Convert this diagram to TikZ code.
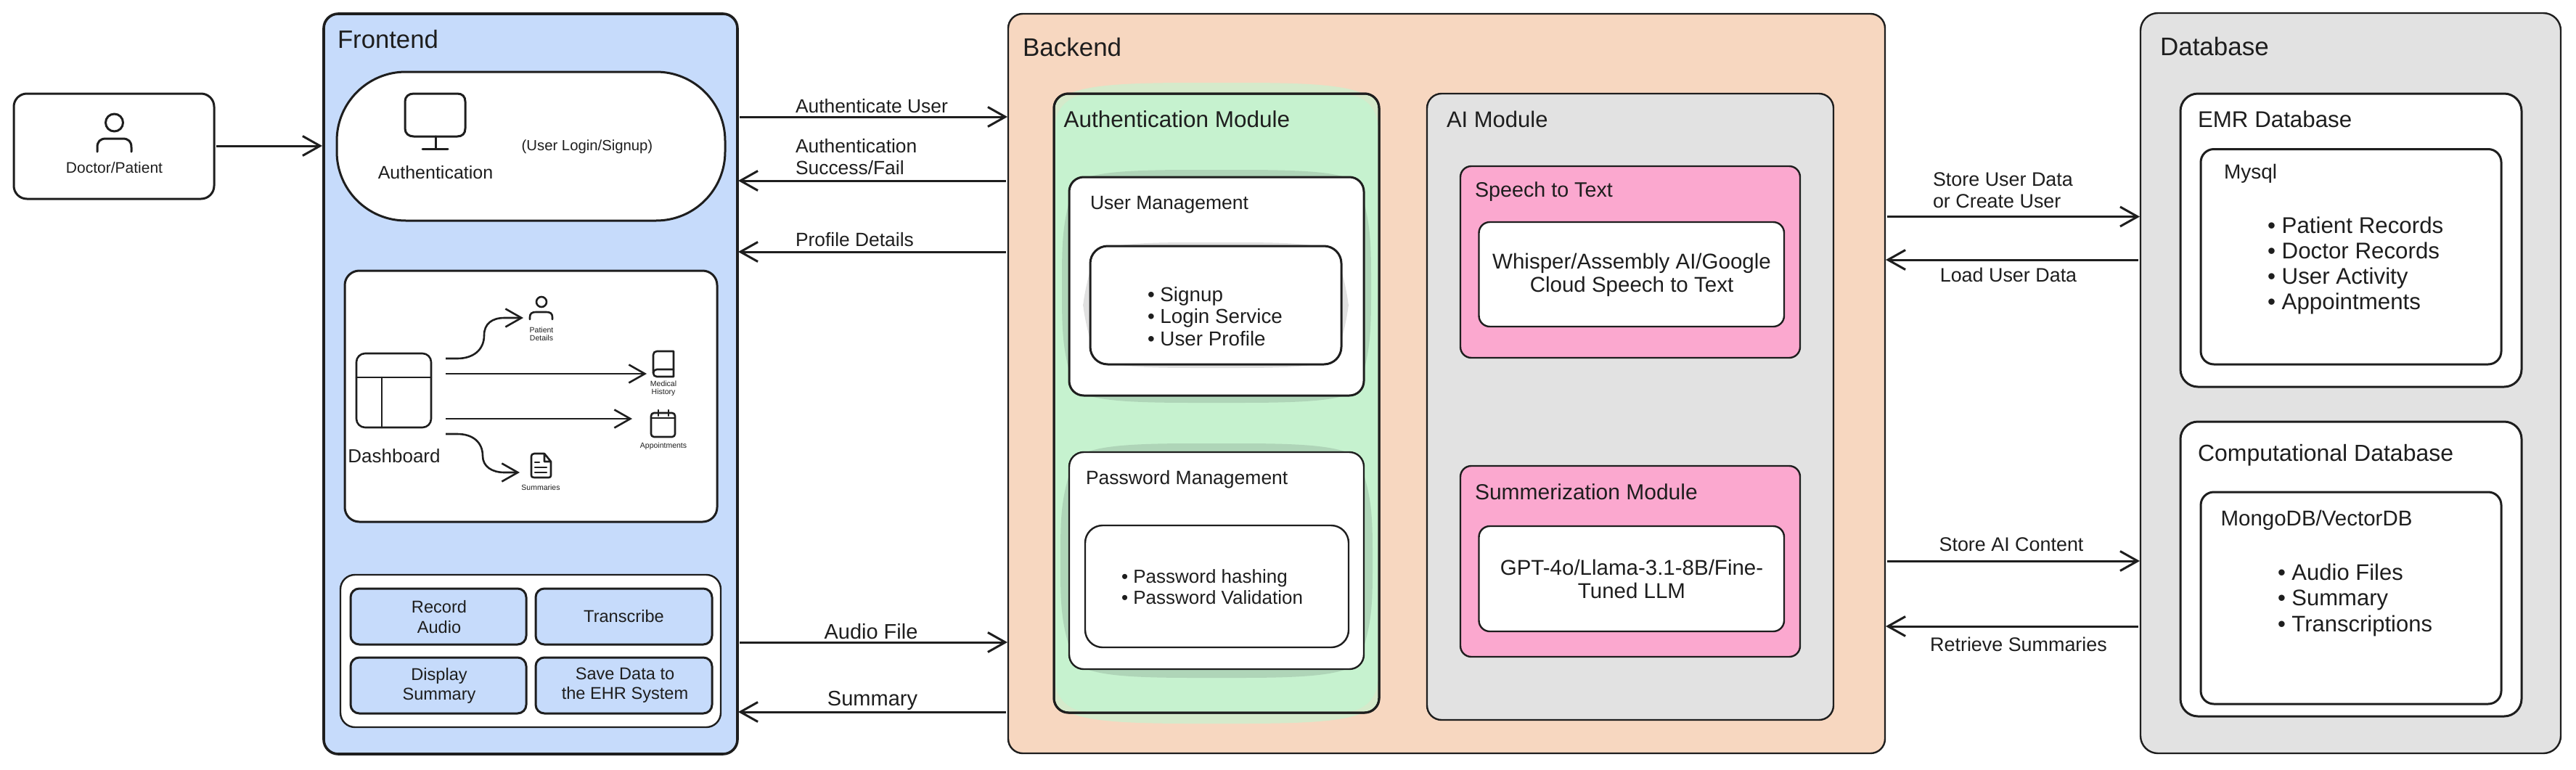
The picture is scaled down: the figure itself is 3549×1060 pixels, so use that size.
\documentclass[tikz,border=0pt]{standalone}
\usepackage{fontspec}
\setmainfont{Liberation Sans}
\usetikzlibrary{arrows.meta}
\definecolor{ink}{HTML}{1E1E1E}
\definecolor{blue1}{HTML}{C6DBFB}
\definecolor{peach}{HTML}{F7D7C0}
\definecolor{green1}{HTML}{C6F2CF}
\definecolor{greentint}{HTML}{D5EACB}
\definecolor{greenhalo}{HTML}{AFD5B8}
\definecolor{gray1}{HTML}{E2E2E2}
\definecolor{grayhalo}{HTML}{E0E0E0}
\definecolor{pink1}{HTML}{FBA8CF}
\newcommand\fz[1]{\fontsize{#1}{\dimexpr #1pt*115/100\relax}\selectfont}
\newcommand\mybox[6]{%
  \pgfmathsetmacro\myw{#5-#3}\pgfmathsetmacro\myh{#6-#4}%
  \pgfmathsetmacro\myx{(#3+#5)/2}\pgfmathsetmacro\myy{(#4+#6)/2}%
  \node[#1,minimum width=\myw pt,minimum height=\myh pt] (#2) at (\myx,\myy) {};}
\newcommand\myhalo[7]{% colour,x1,y1,x2,y2,side,top/bottom
  \fill[#1] ({#2+8},{#3+8}) .. controls ({#2+30},{#3-0.6*#7}) and ({#2+70},{#3-#7}) .. ({#2+0.42*(#4-#2)},{#3-#7})
    -- ({#4-0.42*(#4-#2)},{#3-#7}) .. controls ({#4-70},{#3-#7}) and ({#4-30},{#3-0.6*#7}) .. ({#4-8},{#3+8})
    .. controls ({#4+#6},{#3+60}) and ({#4+#6},{#3+90}) .. ({#4+#6},{0.5*(#3+#5)})
    .. controls ({#4+#6},{#5-90}) and ({#4+#6},{#5-60}) .. ({#4-8},{#5-8})
    .. controls ({#4-30},{#5+0.6*#7}) and ({#4-70},{#5+#7}) .. ({#4-0.42*(#4-#2)},{#5+#7})
    -- ({#2+0.42*(#4-#2)},{#5+#7}) .. controls ({#2+70},{#5+#7}) and ({#2+30},{#5+0.6*#7}) .. ({#2+8},{#5-8})
    .. controls ({#2-#6},{#5-60}) and ({#2-#6},{#5-90}) .. ({#2-#6},{0.5*(#3+#5)})
    .. controls ({#2-#6},{#3+90}) and ({#2-#6},{#3+60}) .. ({#2+8},{#3+8}) -- cycle;}
\tikzset{
  x=1pt,y=-1pt,
  base/.style={draw=ink,line width=3pt,inner sep=0pt,outer sep=0pt,rectangle},
  thin2/.style={line width=2.4pt},
  r12/.style={base,rounded corners=12pt},
  r15/.style={base,rounded corners=15pt},
  r20/.style={base,rounded corners=20pt},
  r24/.style={base,rounded corners=24pt},
  tx/.style={inner sep=0pt,outer sep=0pt,text=ink,align=center,font=\fz{#1}},
  ltx/.style={tx=#1,anchor=west,align=left},
  conn/.style={draw=ink,line width=3pt,-{Straight Barb[length=24pt,width=27pt,line width=3pt]}},
  connb/.style={conn,shorten <=3pt,shorten >=1pt},
  sconn/.style={draw=ink,line width=2.6pt,-{Straight Barb[length=22pt,width=25pt,line width=2.6pt]}},
  ico/.style={draw=ink,line width=3pt,line cap=round,line join=round},
  sico/.style={draw=ink,line width=2.6pt,line cap=round,line join=round},
}
\begin{document}
\begin{tikzpicture}
\useasboundingbox (0,0) rectangle (3549,1060);
\fill[white] (0,0) rectangle (3549,1060);

% Containers
\mybox{r20,line width=3.6pt,fill=blue1}{frontend}{446}{19}{1016}{1039}
\mybox{r20,thin2,fill=peach}{backend}{1389}{19}{2597}{1038}
\mybox{r24,thin2,fill=gray1}{database}{2949}{18}{3528}{1038}
\node[ltx=34.7] (tfront) at (465,54) {Frontend};
\node[ltx=35] (tback) at (1409,65) {Backend};
\node[ltx=35] (tdb) at (2976,64) {Database};

% Doctor / patient
\mybox{base,rounded corners=18pt,fill=white}{doctor}{19}{129}{295}{274}
\draw[ico] (157.5,169) circle [radius=12];
\draw[ico] (134,209) -- (134,203) .. controls (134,195) and (138,191) .. (146,191) -- (169,191) .. controls (177,191) and (181,195) .. (181,203) -- (181,209);
\node[tx=21] (tdoctor) at (157.5,231) {Doctor/Patient};
\draw[conn,shorten <=3pt,shorten >=2pt] (doctor.east |- 0,201) -- (frontend.west |- 0,201);

% Authentication pill
\mybox{base,rounded corners=95pt,fill=white}{authpill}{464}{99}{999}{304}
\draw[ico] (570,129) -- (630,129) .. controls (637,129) and (641,133) .. (641,140) -- (641,177) .. controls (641,184) and (637,188) .. (630,188) -- (570,188) .. controls (563,188) and (558,184) .. (558,177) -- (558,140) .. controls (558,133) and (563,129) .. (570,129) -- cycle;
\draw[ico] (600,188) -- (600,205) (582,205) -- (617,205);
\node[tx=25] (tauth) at (600,238) {Authentication};
\node[tx=20.3] (tlogin) at (809,202) {(User Login/Signup)};

% Dashboard
\mybox{r20,fill=white}{dash}{475}{373}{988}{719}
\draw[sico,rounded corners=12pt] (491,487) rectangle (594,589);
\draw[sico] (491,520) -- (594,520) (526,520) -- (526,589);
\node[tx=26] (tdash) at (543,628) {Dashboard};
\coordinate (d1) at (614,494);
\coordinate (d2) at (614,515);
\coordinate (d3) at (614,577);
\coordinate (d4) at (614,598);
\coordinate (e1) at (721,438);
\coordinate (e2) at (891,515);
\coordinate (e3) at (871,577);
\coordinate (e4) at (716,651);
\draw[sconn] (d1) -- (630,494) .. controls (652,494) and (667,482) .. (667,462) .. controls (667,446) and (678,438) .. (695,438) -- (e1);
\draw[sconn] (d2) -- (e2);
\draw[sconn] (d3) -- (e3);
\draw[sconn] (d4) -- (630,598) .. controls (652,598) and (665,610) .. (665,628) .. controls (665,643) and (678,651) .. (695,651) -- (e4);
% patient icon
\draw[sico] (746,416) circle [radius=7];
\draw[sico] (730,440) -- (730,437) .. controls (730,432) and (733,430) .. (738,430) -- (753,430) .. controls (758,430) and (761,432) .. (761,437) -- (761,440);
\node[tx=10.5] (tpd) at (746,460) {Patient\\[-1pt]Details};
% book icon
\draw[sico] (905,484) -- (928,484) -- (928,519) -- (905,519) .. controls (902,519) and (900,517) .. (900,514) -- (900,489) .. controls (900,486) and (902,484) .. (905,484) -- cycle;
\draw[sico] (900,514) .. controls (900,511) and (902,509) .. (905,509) -- (928,509);
\node[tx=10.5] (tmh) at (914,535.5) {Medical\\[-1pt]History};
% calendar icon
\draw[sico,rounded corners=4pt] (897,569) rectangle (930,602);
\draw[sico] (897,576) -- (930,576) (907,565) -- (907,573) (921,565) -- (921,573);
\node[tx=10.5] (tappt) at (914,615) {Appointments};
% document icon
\draw[sico,line join=round] (750,625) -- (736,625) .. controls (733,625) and (732,627) .. (732,629) -- (732,655) .. controls (732,657) and (733,658) .. (736,658) -- (756,658) .. controls (758,658) and (759,657) .. (759,655) -- (759,636) -- (750,625) -- (750,636) -- (759,636);
\draw[sico] (737,637) -- (743,637) (737,644) -- (753,644) (737,651) -- (753,651);
\node[tx=10.5] (tsum) at (745,672) {Summaries};

% Buttons
\mybox{r20,thin2,fill=white}{btns}{469}{792}{993}{1002}
\mybox{r12,fill=blue1}{brec}{483}{811}{725}{888}
\mybox{r12,fill=blue1}{btrans}{738}{811}{981}{888}
\mybox{r12,fill=blue1}{bdisp}{483}{906}{725}{983}
\mybox{r12,fill=blue1}{bsave}{738}{906}{981}{983}
\node[tx=23.6] (trec) at (605,850) {Record\\Audio};
\node[tx=23.6] (ttrans) at (btrans) {Transcribe};
\node[tx=23.6] (tdisp) at (605,944.5) {Display\\Summary};
\node[tx=23.6] (tsave) at (861,944.5) {Save Data to\\the EHR System};

% Frontend <-> backend
\draw[connb] (frontend.east |- 0,161) -- (backend.west |- 0,161);
\draw[connb] (backend.west |- 0,249) -- (frontend.east |- 0,249);
\draw[connb] (backend.west |- 0,347) -- (frontend.east |- 0,347);
\draw[connb] (frontend.east |- 0,885) -- (backend.west |- 0,885);
\draw[connb] (backend.west |- 0,981) -- (frontend.east |- 0,981);
\node[ltx=26.4] (l1) at (1096,146) {Authenticate User};
\node[ltx=26.4] (l2) at (1096,216) {Authentication\\Success/Fail};
\node[ltx=26.4] (l3) at (1096,330) {Profile Details};
\node[tx=29] (l4) at (1200,870) {Audio File};
\node[tx=29] (l5) at (1202,965) {Summary};

% Authentication module
\myhalo{greentint}{1452}{129}{1900}{982}{0}{15}
\mybox{r20,fill=greentint}{authmod}{1452}{129}{1900}{982}
\fill[green1,rounded corners=42pt] (1454,131) rectangle (1898,980);
\draw[draw=ink,line width=3pt,rounded corners=20pt] (authmod.north west) rectangle (authmod.south east);
\node[ltx=31.5] (tam) at (1465.5,164) {Authentication Module};

\myhalo{greenhalo}{1473}{244}{1879}{545}{10}{10}
\mybox{r20,fill=white}{userm}{1473}{244}{1879}{545}
\node[ltx=26.5] (tum) at (1502,282) {User Management};
\myhalo{grayhalo}{1502}{339}{1848}{502}{10}{5}
\mybox{r24,fill=white}{userl}{1502}{339}{1848}{502}
\node[ltx=27.8,font=\fontsize{27.8}{30.5}\selectfont] (tul) at (1581,436) {• Signup\\• Login Service\\• User Profile};

\myhalo{greenhalo}{1473}{623}{1879}{922}{12}{12}
\mybox{r20,thin2,fill=white}{passm}{1473}{623}{1879}{922}
\node[ltx=26.5] (tpm) at (1496,661) {Password Management};
\mybox{r24,thin2,fill=white}{passl}{1495}{724}{1858}{892}
\node[ltx=26,font=\fontsize{26}{29}\selectfont] (tpl) at (1545,809) {• Password hashing\\• Password Validation};

% AI module
\mybox{r20,thin2,fill=gray1}{aimod}{1966}{129}{2526}{992}
\node[ltx=31] (tai) at (1993,164) {AI Module};
\mybox{r15,thin2,fill=pink1}{speech}{2012}{229}{2480}{493}
\node[ltx=28.7] (tsp) at (2032,264) {Speech to Text};
\mybox{r15,thin2,fill=white}{speechw}{2037.5}{306}{2458}{450}
\node[tx=29.5,font=\fontsize{29.5}{31.5}\selectfont] (tspw) at (2248,379) {Whisper/Assembly AI/Google\\Cloud Speech to Text};
\mybox{r15,thin2,fill=pink1}{summ}{2012}{642}{2480}{905}
\node[ltx=30] (tsm) at (2032,678) {Summerization Module};
\mybox{r15,thin2,fill=white}{summw}{2037.5}{725}{2458}{870}
\node[tx=29.5,font=\fontsize{29.5}{32}\selectfont] (tsmw) at (2248,798) {GPT-4o/Llama-3.1-8B/Fine-\\Tuned LLM};

% Database boxes
\mybox{r24,fill=white}{emr}{3004}{129}{3474}{533}
\node[ltx=31.3] (temr) at (3028,164) {EMR Database};
\mybox{base,rounded corners=18pt,fill=white}{mysql}{3032}{205.5}{3446}{502}
\node[ltx=28] (tmy) at (3064,239) {Mysql};
\node[ltx=31.3,font=\fontsize{31.3}{35.2}\selectfont] (tmyl) at (3124,366) {• Patient Records\\• Doctor Records\\• User Activity\\• Appointments};
\mybox{r24,fill=white}{comp}{3004}{581}{3474}{987}
\node[ltx=32] (tcomp) at (3028,627) {Computational Database};
\mybox{base,rounded corners=18pt,fill=white}{mongo}{3032}{678}{3446}{970}
\node[ltx=29.5] (tmg) at (3059.5,717) {MongoDB/VectorDB};
\node[ltx=31,font=\fontsize{31}{35.5}\selectfont] (tmgl) at (3138,826.5) {• Audio Files\\• Summary\\• Transcriptions};

% Backend <-> database
\draw[connb] (backend.east |- 0,298.5) -- (database.west |- 0,298.5);
\draw[connb] (database.west |- 0,358) -- (backend.east |- 0,358);
\draw[connb] (backend.east |- 0,773) -- (database.west |- 0,773);
\draw[connb] (database.west |- 0,863) -- (backend.east |- 0,863);
\node[ltx=26.9,font=\fontsize{26.9}{29.5}\selectfont] (l6) at (2663,262) {Store User Data\\or Create User};
\node[tx=26.9] (l7) at (2767,379) {Load User Data};
\node[tx=26.9] (l8) at (2771,750) {Store AI Content};
\node[tx=26.9] (l9) at (2781,888) {Retrieve Summaries};
\end{tikzpicture}
\end{document}
